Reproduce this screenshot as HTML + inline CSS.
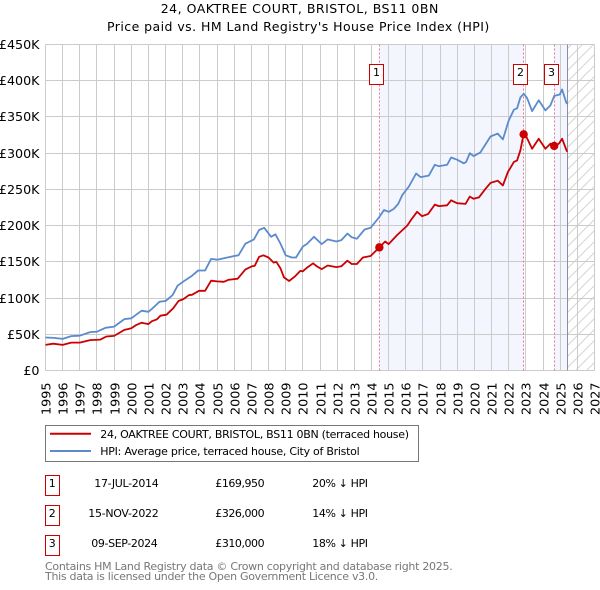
<!DOCTYPE html>
<html><head><meta charset="utf-8"><style>
html,body{margin:0;padding:0;background:#fff;width:600px;height:590px;overflow:hidden}
svg{display:block}
text{font-family:"DejaVu Sans","Liberation Sans",sans-serif;fill:#000}
</style></head><body>
<svg id="c" width="600" height="590" viewBox="0 0 600 590" xmlns="http://www.w3.org/2000/svg">
<defs><pattern id="h" width="11" height="11" patternUnits="userSpaceOnUse"><path d="M-1 12L12 -1M-1 1L1 -1M10 12L12 10" stroke="#d4d4d4" stroke-width="1" fill="none"/></pattern></defs>
<g id="plot"></g>
<text x="160.7" y="13" font-size="12.5" textLength="277.6" lengthAdjust="spacing">24, OAKTREE COURT, BRISTOL, BS11 0BN</text>
<text x="107" y="31" font-size="12.5" textLength="382.3" lengthAdjust="spacing">Price paid vs. HM Land Registry's House Price Index (HPI)</text>
<g>
<rect x="45.5" y="425.5" width="373" height="36" fill="#fff" stroke="#777"/>
<line x1="50" x2="91" y1="433.7" y2="433.7" stroke="#cc0000" stroke-width="2"/>
<text x="100.3" y="438" font-size="11" textLength="308.7" lengthAdjust="spacing">24, OAKTREE COURT, BRISTOL, BS11 0BN (terraced house)</text>
<line x1="50" x2="91" y1="451" y2="451" stroke="#5b8bcd" stroke-width="2"/>
<text x="100.3" y="455" font-size="11" textLength="259.4" lengthAdjust="spacing">HPI: Average price, terraced house, City of Bristol</text>
</g>
<g>
<rect x="45.5" y="475.5" width="14" height="20" fill="#fff" stroke="#cc0000"/>
<text x="52.3" y="487" text-anchor="middle" font-size="11">1</text>
<text x="94.3" y="487" font-size="11" textLength="64.4" lengthAdjust="spacing">17-JUL-2014</text>
<text x="215.3" y="487" font-size="11" textLength="49.3" lengthAdjust="spacing">£169,950</text>
<text x="312.3" y="487" font-size="11" textLength="55.7" lengthAdjust="spacing">20% ↓ HPI</text>
<rect x="45.5" y="505.5" width="14" height="20" fill="#fff" stroke="#cc0000"/>
<text x="52.3" y="517" text-anchor="middle" font-size="11">2</text>
<text x="88.3" y="517" font-size="11" textLength="70.4" lengthAdjust="spacing">15-NOV-2022</text>
<text x="215.3" y="517" font-size="11" textLength="49.3" lengthAdjust="spacing">£326,000</text>
<text x="312.3" y="517" font-size="11" textLength="55.7" lengthAdjust="spacing">14% ↓ HPI</text>
<rect x="45.5" y="535.5" width="14" height="20" fill="#fff" stroke="#cc0000"/>
<text x="52.3" y="547" text-anchor="middle" font-size="11">3</text>
<text x="91.3" y="547" font-size="11" textLength="66.4" lengthAdjust="spacing">09-SEP-2024</text>
<text x="215.3" y="547" font-size="11" textLength="49.3" lengthAdjust="spacing">£310,000</text>
<text x="312.3" y="547" font-size="11" textLength="55.7" lengthAdjust="spacing">18% ↓ HPI</text>
</g>
<text x="45" y="570" font-size="11" textLength="407.7" lengthAdjust="spacing" style="fill:#777">Contains HM Land Registry data © Crown copyright and database right 2025.</text>
<text x="45" y="580" font-size="11" textLength="333.3" lengthAdjust="spacing" style="fill:#777">This data is licensed under the Open Government Licence v3.0.</text>
</svg>
<script>
const yearTicks = [1995,1996,1997,1998,1999,2000,2001,2002,2003,2004,2005,2006,2007,2008,2009,2010,2011,2012,2013,2014,2015,2016,2017,2018,2019,2020,2021,2022,2023,2024,2025,2026,2027];
const valueTicks = [0,50,100,150,200,250,300,350,400,450];
const valueTickLabels = ['£0','£50K','£100K','£150K','£200K','£250K','£300K','£350K','£400K','£450K'];
const hpiDates = [1995,1995.5,1996,1996.5,1997,1997.6,1998,1998.5,1999,1999.6,2000,2000.6,2001,2001.2,2001.65,2002,2002.4,2002.7,2003.1,2003.5,2003.9,2004.3,2004.65,2005,2005.6,2006,2006.25,2006.65,2007.15,2007.45,2007.75,2008.15,2008.4,2008.7,2009,2009.35,2009.6,2010,2010.25,2010.65,2011.1,2011.45,2011.95,2012.25,2012.6,2012.85,2013.15,2013.6,2013.95,2014.46,2014.73,2015.01,2015.3,2015.56,2015.79,2016.18,2016.6,2016.86,2017.34,2017.69,2017.93,2018.41,2018.64,2018.99,2019.38,2019.52,2019.73,2019.96,2020.35,2020.94,2021.36,2021.66,2022,2022.3,2022.49,2022.68,2022.88,2023.07,2023.36,2023.75,2024.14,2024.43,2024.65,2024.98,2025.11,2025.35,2025.41];
const hpiValues = [45.5,45,43.6,47.5,48,53,53.5,59,60.6,71,72,82.5,81,85,95,96,104,117,124,130,138,138,154,153,156,158,159,175,181,194,197,184.5,188,175,159,156,156,171,175,184.5,174.5,181,178,180,189,184,182,194.6,197,212,221.5,219,223,230,242,254,272,267,269,284,282,284,294,291,286,288,300,296,301,323,327,319,345,360,362,377,382,376,358,373,359,366,379,381,388,370,368];
const paidDates = [1995,1995.45,1996,1996.5,1997,1997.6,1998.2,1998.55,1999,1999.6,2000,2000.3,2000.6,2001,2001.2,2001.5,2001.7,2002.05,2002.45,2002.75,2003.05,2003.35,2003.55,2003.95,2004.3,2004.65,2005,2005.4,2005.65,2006.2,2006.65,2007.05,2007.2,2007.45,2007.7,2008,2008.3,2008.45,2008.7,2008.9,2009.2,2009.55,2009.85,2010,2010.25,2010.6,2010.8,2011.1,2011.45,2011.95,2012.25,2012.6,2012.85,2013.15,2013.5,2013.95,2014.46,2014.8,2015,2015.5,2016.08,2016.37,2016.66,2016.95,2017.3,2017.69,2017.93,2018.41,2018.64,2018.99,2019.48,2019.73,2019.96,2020.26,2020.65,2020.94,2021.36,2021.66,2021.95,2022.3,2022.49,2022.68,2022.87,2023,2023.36,2023.75,2024.14,2024.43,2024.65,2024.92,2025.11,2025.35,2025.41];
const paidValues = [35.4,37,35.4,38.5,38.5,42,42.7,47,47.7,56,58.3,63,66,64,68,70.7,75.7,77,86,96,98.7,104,104.7,110,110,124,123,122.5,125,126.7,139.5,144,144.6,157,159,156,149,150,141,128.5,123.5,130,137.5,137,142,148,144,140,145,142.7,144,151.5,147,147,156,158,169.95,178,174.5,187,200,210,219,213,216,229,227,228,235,231,230,240,237,239,251,259,262,255.5,274,288,290,304,326,324,306,320,306,313,310,313,320,305,302];
const saleDates = [2014.46,2022.87,2024.65];
const saleValues = [169.95,326,310];
const saleLabels = ['1','2','3'];
const nowDate = 2025.41;

const NS = 'http://www.w3.org/2000/svg';
const plot = document.getElementById('plot');
function x(year){ return 45.5 + (year - 1995) * 549 / 32; }
function y(k){ return 370.5 - k * 326 / 450; }
function mk(tag, attrs, parent){
  const el = document.createElementNS(NS, tag);
  for (const k in attrs) el.setAttribute(k, attrs[k]);
  (parent || plot).appendChild(el);
  return el;
}
function snap(v){ return Math.round(v - 0.5) + 0.5; }
function linePath(ds, vs){
  return ds.map((d, i) => (i ? 'L' : 'M') + x(d).toFixed(1) + ' ' + y(vs[i]).toFixed(1)).join('');
}

let el;
el = mk('rect', {x:x(saleDates[0]), y:y(450), width:x(saleDates[1])-x(saleDates[0]), height:y(0)-y(450), fill:'#f3f6fe'});


el = mk('rect', {x:x(saleDates[2]), y:y(450), width:x(nowDate)-x(saleDates[2]), height:y(0)-y(450), fill:'#f3f6fe'});


el = mk('rect', {x:x(nowDate), y:y(450), width:x(2027)-x(nowDate), height:y(0)-y(450), fill:'url(#h)'});



yearTicks.forEach(function(t){
  const px = snap(x(t));
  const g = mk('line', {x1:px, x2:px, y1:y(450), y2:y(0), stroke:'#cbcbcb', 'stroke-width':1});
  
  
  const lab = mk('text', {transform:'translate(' + (px + 5) + ' 415) rotate(-90)', 'font-size':12.8});
  
  
  lab.textContent = t;
});
valueTicks.forEach(function(v, i){
  const py = snap(y(v));
  const g = mk('line', {x1:x(1995), x2:x(2027), y1:py, y2:py, stroke:'#cbcbcb', 'stroke-width':1});
  
  
  const lab = mk('text', {x:39.5, y:py + 4.5, 'text-anchor':'end', 'font-size':12.7});
  
  
  lab.textContent = valueTickLabels[i];
});

saleDates.forEach(function(d){
  const px = snap(x(d));
  const l = mk('line', {x1:px, x2:px, y1:y(450), y2:y(0), stroke:'#ee7782', 'stroke-width':1, 'stroke-dasharray':'2 2'});
  
  
});
el = mk('line', {x1:snap(x(nowDate)), x2:snap(x(nowDate)), y1:y(450), y2:y(0), stroke:'#8a8f99', 'stroke-width':1});



el = mk('path', {d:linePath(hpiDates, hpiValues), fill:'none', stroke:'#5b8bcd', 'stroke-width':1.8, 'stroke-linejoin':'round'});


el = mk('path', {d:linePath(paidDates, paidValues), fill:'none', stroke:'#cc0000', 'stroke-width':1.8, 'stroke-linejoin':'round'});



saleDates.forEach(function(d, i){
  const c = mk('circle', {cx:x(d), cy:y(saleValues[i]), r:4.2, fill:'#cc0000'});
  
  
  const bx = snap(x(d)) - 10;
  const b = mk('rect', {x:bx, y:64.5, width:14, height:20, fill:'#fff', stroke:'#cc0000'});
  
  
  const t = mk('text', {x:bx + 7, y:76, 'text-anchor':'middle', 'font-size':11});
  
  
  t.textContent = saleLabels[i];
});
</script>
</body></html>
